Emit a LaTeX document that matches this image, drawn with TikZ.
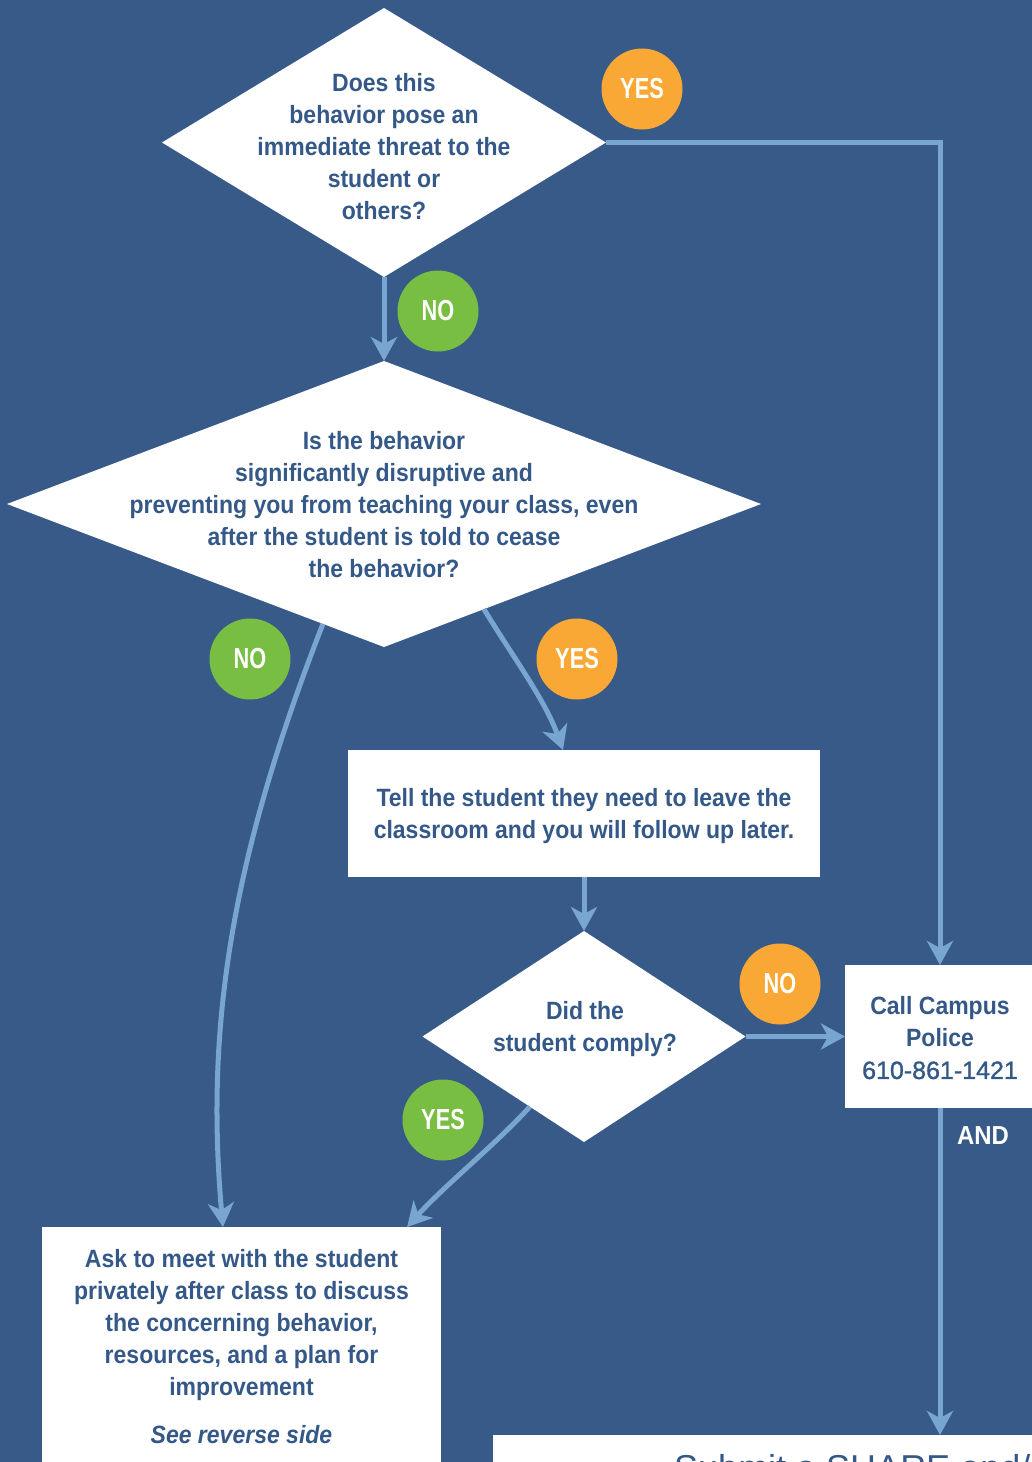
\documentclass[tikz,border=0pt]{standalone}
\usepackage{fontspec}
\setmainfont{Liberation Sans}[FakeStretch=0.92]
\newfontfamily\lblfont{Liberation Sans}[FakeStretch=0.75]
\newfontfamily\numfont{Liberation Sans}
\newfontfamily\phonefont{Liberation Sans}[FakeBold=1.2]
\usetikzlibrary{shapes.geometric,arrows.meta,calc}
\definecolor{bgblue}{HTML}{375A89}
\definecolor{arrowblue}{HTML}{78A6D1}
\definecolor{yesorange}{HTML}{F9A835}
\definecolor{nogreen}{HTML}{77BE43}
\definecolor{textblue}{HTML}{345887}
\begin{document}
\begin{tikzpicture}[x=1pt,y=-1pt,
  dia/.style={diamond, fill=white, inner sep=0pt, outer sep=0pt},
  box/.style={rectangle, fill=white, inner sep=0pt, outer sep=0pt},
  qtext/.style={text=textblue, align=center, inner sep=0pt, font=\bfseries\fontsize{25}{32}\selectfont},
  badge/.style={circle, minimum size=81pt, inner sep=0pt, text=white, font=\lblfont\bfseries\fontsize{29}{32}\selectfont},
  yesb/.style={badge, fill=yesorange},
  nob/.style={badge, fill=nogreen},
  flow/.style={draw=arrowblue, line width=5pt, -{Stealth[length=24pt,width=26pt,inset=7pt]}},
]
\fill[bgblue] (0,0) rectangle (1032,1462);
\useasboundingbox (0,0) rectangle (1032,1462);
\clip (0,0) rectangle (1032,1462);

% shapes
\node[dia, minimum width=444pt, minimum height=269pt] (d1) at (384,142.5) {};
\node[dia, minimum width=754pt, minimum height=286pt] (d2) at (384,504) {};
\node[box, minimum width=472pt, minimum height=127pt] (b1) at (584,813.5) {};
\node[dia, minimum width=323pt, minimum height=211pt] (d3) at (584,1036.5) {};
\node[box, minimum width=190pt, minimum height=143pt] (cb) at (940,1036.5) {};
\node[box, anchor=north, minimum width=399pt, minimum height=260pt] (bl) at (241.5,1227) {};
\node[box, anchor=north west, minimum width=600pt, minimum height=100pt] (sb) at (493,1435) {};

% texts
\node[qtext] (t1) at (384,147) {Does this\\behavior pose an\\immediate threat to the\\student or\\others?};
\node[qtext] (t2) at (384,505) {Is the behavior\\significantly disruptive and\\preventing you from teaching your class, even\\after the student is told to cease\\the behavior?};
\node[qtext] (tb1) at (584,816) {Tell the student they need to leave the\\classroom and you will follow up later.};
\node[qtext] (t3) at (585,1029) {Did the\\student comply?};
\node[qtext] (tcb) at (940,1038) {Call Campus\\Police\\{\phonefont\mdseries 610-861-1421}};
\node[qtext] (tbl) at (241.5,1347) {Ask to meet with the student\\privately after class to discuss\\the concerning behavior,\\resources, and a plan for\\improvement\\[16pt]\textit{See reverse side}};
\node[anchor=base west, text=textblue, inner sep=0pt, font=\numfont\fontsize{36}{40}\selectfont] (tsb) at (674,1480) {Submit a SHARE and/or};
\node[text=white, inner sep=0pt, font=\bfseries\fontsize{26}{30}\selectfont] (and) at (983,1136) {AND};

% connector end points on borders
\coordinate (n2s) at ($(d2.south)!0.162!(d2.west)$);
\coordinate (n2e) at ($(bl.north west)!0.4536!(bl.north east)$);
\coordinate (y2s) at ($(d2.south)!0.265!(d2.east)$);
\coordinate (y2e) at ($(b1.north west)!0.4555!(b1.north east)$);
\coordinate (y3s) at ($(d3.south)!0.335!(d3.west)$);
\coordinate (y3e) at ($(bl.north west)!0.915!(bl.north east)$);

% connectors
\draw[flow] (d1.south) -- (d2.north);
\draw[flow] (d1.east) -- (d1.east -| cb.north) -- (cb.north);
\draw[flow] (n2s) .. controls (232,857) and (205,1025) .. (n2e);
\draw[flow] (y2s) .. controls (515,660) and (545,700) .. (y2e);
\draw[flow] (b1.south) -- (d3.north);
\draw[flow] (d3.east) -- (cb.west);
\draw[flow] (y3s) .. controls (495,1145) and (445,1185) .. (y3e);
\draw[flow] (cb.south) -- (cb.south |- sb.north);

% badges
\node[yesb] (y1) at (642,89) {YES};
\node[nob] (n1) at (438,311) {NO};
\node[nob] (n2) at (250,659) {NO};
\node[yesb] (y2) at (577,659) {YES};
\node[yesb] (n3) at (780,984) {NO};
\node[nob] (y3) at (443,1120) {YES};
\end{tikzpicture}
\end{document}
